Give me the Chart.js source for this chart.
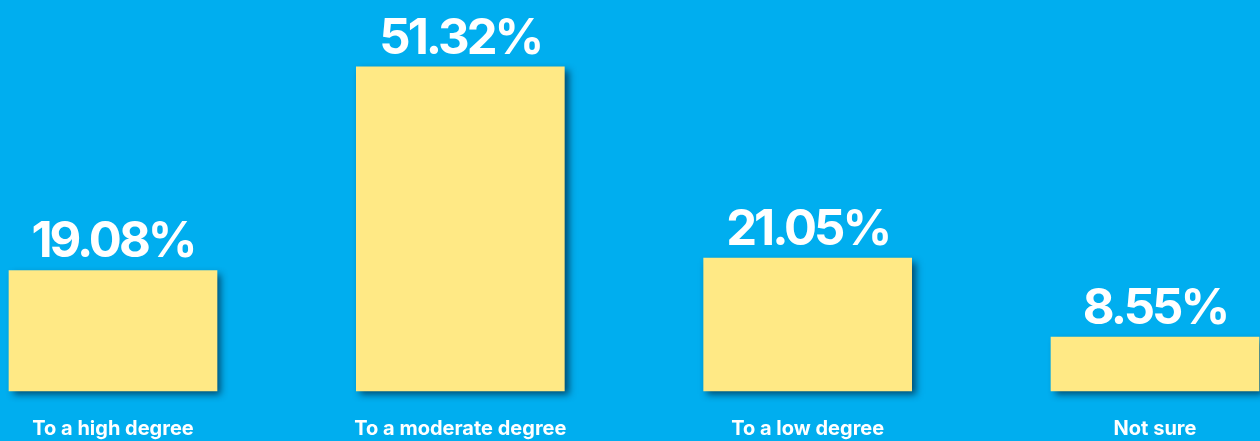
<!DOCTYPE html>
<html>
<head>
<meta charset="utf-8">
<script src="https://cdn.jsdelivr.net/npm/chart.js@4"></script>
<style>
  html, body { margin: 0; padding: 0; background: #00aeef; overflow: hidden; }
  #wrap { width: 1260px; height: 441px; overflow: hidden; }
</style>
</head>
<body>
<div id="wrap"><canvas id="barChart" width="1260" height="467"></canvas></div>
<script>
// chart data
const categories = ['To a high degree', 'To a moderate degree', 'To a low degree', 'Not sure'];
const percentValues = [19.08, 51.32, 21.05, 8.55];

// drop shadow under the bars
const barShadow = {
    id: 'barShadow',
    beforeDatasetDraw(chart) {
        const ctx = chart.ctx;
        ctx.save();
        ctx.shadowColor = 'rgba(0, 35, 60, 0.7)';
        ctx.shadowBlur = 7;
        ctx.shadowOffsetX = 4;
        ctx.shadowOffsetY = 4;
    },
    afterDatasetDraw(chart) {
        chart.ctx.restore();
    }
};

// percentage labels above each bar
const valueLabels = {
    id: 'valueLabels',
    afterDatasetsDraw(chart) {
        const ctx = chart.ctx;
        const meta = chart.getDatasetMeta(0);
        ctx.save();
        ctx.fillStyle = '#ffffff';
        ctx.font = '700 49px Inter, "Open Sans", sans-serif';
        ctx.letterSpacing = '-3px';
        ctx.textAlign = 'center';
        ctx.textBaseline = 'alphabetic';
        meta.data.forEach((bar, i) => {
            ctx.fillText(percentValues[i].toFixed(2) + '%', bar.x, bar.y - 13);
        });
        ctx.restore();
    }
};

new Chart(document.getElementById('barChart'), {
    type: 'bar',
    data: {
        labels: categories,
        datasets: [{
            data: percentValues,
            backgroundColor: '#ffe985',
            borderWidth: 0,
            barThickness: 208,
            clip: false
        }]
    },
    options: {
        responsive: false,
        animation: false,
        layout: { padding: { top: 12, left: 113, right: 105, bottom: 0 } },
        plugins: {
            legend: { display: false },
            tooltip: { enabled: false }
        },
        scales: {
            x: {
                offset: false,
                grid: { display: false, drawTicks: false },
                border: { display: false },
                ticks: {
                    color: '#ffffff',
                    padding: 26,
                    maxRotation: 0,
                    autoSkip: false,
                    font: { family: 'Inter, "Open Sans", sans-serif', size: 20, weight: '700' }
                }
            },
            y: {
                display: false,
                min: 0,
                max: 60
            }
        }
    },
    plugins: [barShadow, valueLabels]
});
</script>
</body>
</html>
